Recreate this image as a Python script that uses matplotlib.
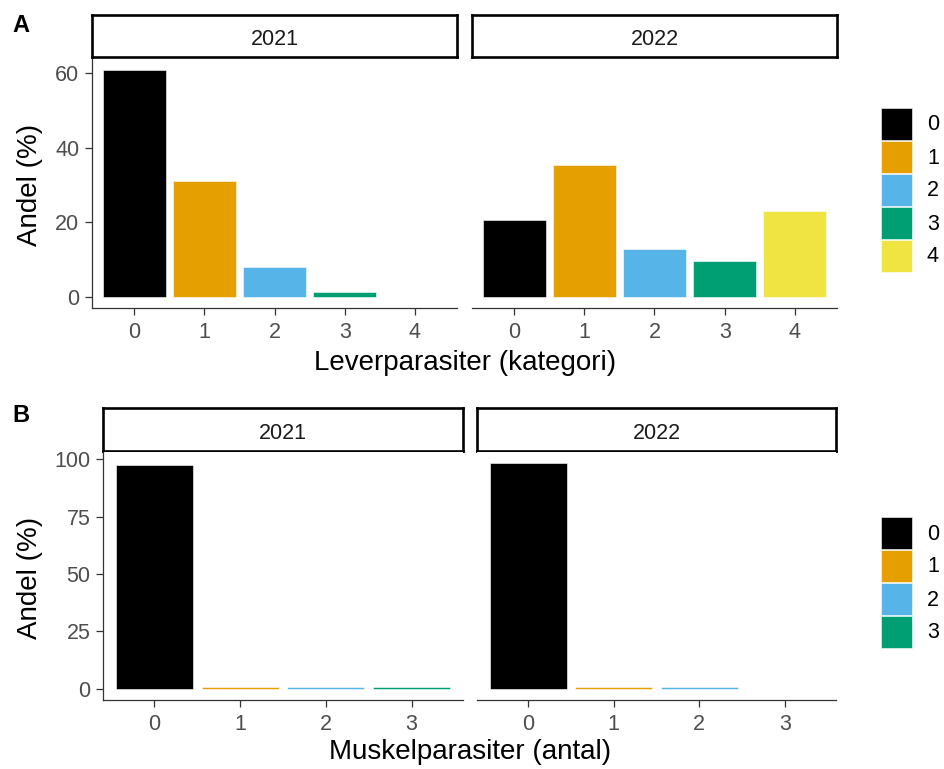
import matplotlib
matplotlib.use("Agg")
import matplotlib.pyplot as plt
from matplotlib.patches import Rectangle

plt.rcParams['font.family'] = ['Liberation Sans', 'DejaVu Sans']

# andel (%) per kategori och år
years = ["2021", "2022"]
lever_cats = ["0", "1", "2", "3", "4"]
lever_2021 = [60.7, 31.1, 8.0, 1.2, 0.0]
lever_2022 = [20.5, 35.4, 12.7, 9.6, 22.9]

muskel_cats = ["0", "1", "2", "3"]
muskel_2021 = [97.5, 0.8, 0.8, 0.8]
muskel_2022 = [98.2, 0.9, 0.9, 0.0]

palette = ["#000000", "#E69F00", "#56B4E9", "#009E73", "#F0E442"]

W, H = 945, 769
fig = plt.figure(figsize=(W / 100, H / 100), dpi=100)


def box(x0, y0, x1, y1):
    return [x0 / W, 1 - y1 / H, (x1 - x0) / W, (y1 - y0) / H]


AXC = "#333333"
TICKC = "#4D4D4D"
FS_TICK = 15.5
FS_TITLE = 20


def facet(x0, x1, y_strip, y_plot, title, cats, vals, ylim, yticks, show_y):
    st = fig.add_axes(box(x0, y_strip[0], x1, y_strip[1]))
    st.set_xticks([]); st.set_yticks([])
    for s in st.spines.values():
        s.set_linewidth(1.9)
        s.set_color("black")
    st.text(0.5, 0.41, title, ha="center", va="center", fontsize=15.5,
            color="#1A1A1A", transform=st.transAxes)

    ax = fig.add_axes(box(x0, y_plot[0], x1, y_plot[1]))
    xs = range(len(cats))
    ax.bar(xs, vals, width=0.9, color=palette[:len(cats)],
           edgecolor="white", linewidth=0.4)
    ax.set_xlim(-0.6, len(cats) - 0.4)
    ax.set_ylim(*ylim)
    ax.set_xticks(list(xs))
    ax.set_xticklabels(cats)
    ax.set_yticks(yticks)
    ax.spines["top"].set_visible(False)
    ax.spines["right"].set_visible(False)
    ax.spines["bottom"].set_color(AXC)
    ax.spines["bottom"].set_linewidth(0.9)
    if show_y:
        ax.spines["left"].set_color(AXC)
        ax.spines["left"].set_linewidth(0.9)
        ax.tick_params(axis="y", length=5, width=0.9, color=AXC,
                       labelsize=FS_TICK, labelcolor=TICKC, pad=4)
    else:
        ax.spines["left"].set_visible(False)
        ax.tick_params(axis="y", left=False, labelleft=False)
    ax.tick_params(axis="x", length=5, width=0.9, color=AXC,
                   labelsize=FS_TICK, labelcolor=TICKC, pad=5)
    return ax


def expand(series):
    top = max(max(s) for s in series)
    return (-0.05 * top, 1.05 * top)


def legend(y_top, cats):
    for i, c in enumerate(cats):
        y0 = y_top + i * 33
        fig.patches.append(Rectangle((881 / W, 1 - (y0 + 32) / H), 31 / W, 32 / H,
                                     transform=fig.transFigure,
                                     facecolor=palette[i], edgecolor="white",
                                     linewidth=0.4))
        fig.text(927 / W, 1 - (y0 + 17) / H, c, ha="left", va="center",
                 fontsize=FS_TICK, color="black")


# Panel A: leverparasiter
ylim_a = expand([lever_2021, lever_2022])
facet(92, 457, (15, 57), (59, 308), years[0], lever_cats, lever_2021,
      ylim_a, [0, 20, 40, 60], True)
facet(472, 837, (15, 57), (59, 308), years[1], lever_cats, lever_2022,
      ylim_a, [0, 20, 40, 60], False)
fig.text(465 / W, 1 - 363 / H, "Leverparasiter (kategori)", ha="center",
         va="center", fontsize=FS_TITLE, color="black")
fig.text(30 / W, 1 - 185 / H, "Andel (%)", ha="center", va="center",
         rotation=90, fontsize=FS_TITLE, color="black")
fig.text(12 / W, 1 - 25 / H, "A", ha="left", va="center", fontsize=17,
         fontweight="bold")
legend(108, lever_cats)

# Panel B: muskelparasiter
ylim_b = expand([muskel_2021, muskel_2022])
facet(103, 463, (408, 451), (452, 700), years[0], muskel_cats, muskel_2021,
      ylim_b, [0, 25, 50, 75, 100], True)
facet(477, 836, (408, 451), (452, 700), years[1], muskel_cats, muskel_2022,
      ylim_b, [0, 25, 50, 75, 100], False)
fig.text(470 / W, 1 - 752 / H, "Muskelparasiter (antal)", ha="center",
         va="center", fontsize=FS_TITLE, color="black")
fig.text(30 / W, 1 - 578 / H, "Andel (%)", ha="center", va="center",
         rotation=90, fontsize=FS_TITLE, color="black")
fig.text(12 / W, 1 - 416 / H, "B", ha="left", va="center", fontsize=17,
         fontweight="bold")
legend(517, muskel_cats)

fig.savefig("out.png", dpi=100)
